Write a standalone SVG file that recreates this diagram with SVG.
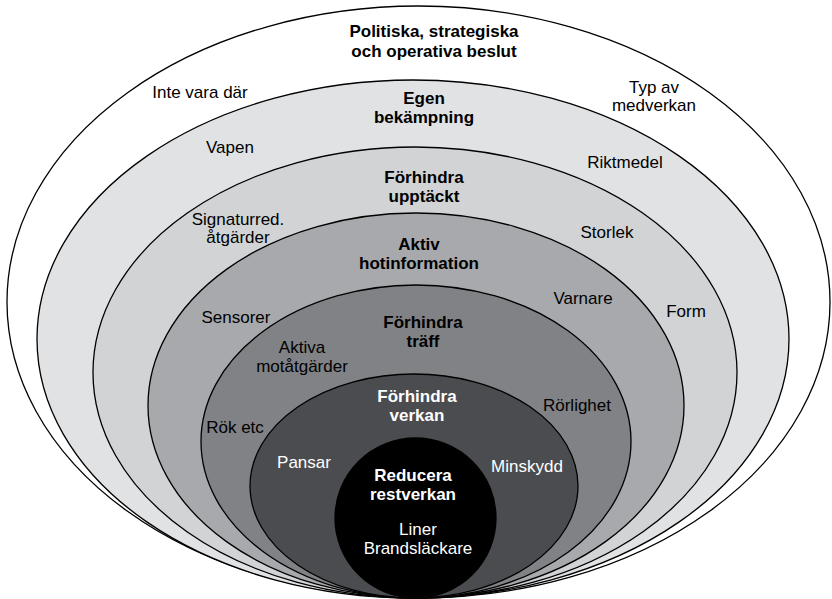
<svg xmlns="http://www.w3.org/2000/svg" width="832" height="599" viewBox="0 0 832 599">
<style>
.ring{stroke:#000;stroke-width:1.3}
text{font-family:"Liberation Sans",Arial,Helvetica,sans-serif;font-size:17px;text-anchor:middle;fill:#000}
.b{font-weight:bold}
.w{fill:#fff}
</style>
<rect width="832" height="599" fill="#fff"/>
<g id="ring-beslut">
<ellipse class="ring" cx="418.5" cy="302" rx="411.5" ry="296" fill="#ffffff"/>
<text class="b" x="434" y="37">Politiska, strategiska</text>
<text class="b" x="434" y="57">och operativa beslut</text>
<text x="200" y="98">Inte vara där</text>
<text x="654" y="93">Typ av</text>
<text x="654" y="111">medverkan</text>
</g>
<g id="ring-bekampning">
<ellipse class="ring" cx="413" cy="339" rx="376" ry="259" fill="#e1e2e4"/>
<text class="b" x="424" y="104">Egen</text>
<text class="b" x="424" y="123">bekämpning</text>
<text x="230" y="153">Vapen</text>
<text x="625" y="168">Riktmedel</text>
</g>
<g id="ring-upptackt">
<ellipse class="ring" cx="415" cy="372.5" rx="322" ry="225.5" fill="#d1d3d4"/>
<text class="b" x="424" y="183">Förhindra</text>
<text class="b" x="424" y="202">upptäckt</text>
<text x="238" y="224.5">Signaturred.</text>
<text x="238" y="243">åtgärder</text>
<text x="607" y="238">Storlek</text>
<text x="686" y="317">Form</text>
</g>
<g id="ring-hotinformation">
<ellipse class="ring" cx="416" cy="405.5" rx="268" ry="192.5" fill="#a7a9ac"/>
<text class="b" x="419" y="250">Aktiv</text>
<text class="b" x="419" y="269">hotinformation</text>
<text x="583" y="304">Varnare</text>
<text x="236" y="323">Sensorer</text>
</g>
<g id="ring-traff">
<ellipse class="ring" cx="416" cy="441.5" rx="215" ry="156.5" fill="#808285"/>
<text class="b" x="423" y="328">Förhindra</text>
<text class="b" x="423" y="347">träff</text>
<text x="302" y="353">Aktiva</text>
<text x="302" y="372">motåtgärder</text>
<text x="235" y="433">Rök etc</text>
<text x="577" y="411">Rörlighet</text>
</g>
<g id="ring-verkan">
<ellipse class="ring" cx="414" cy="486" rx="164" ry="112" fill="#4a4c4f"/>
<text class="b w" x="417" y="402">Förhindra</text>
<text class="b w" x="417" y="421">verkan</text>
<text class="w" x="304" y="468">Pansar</text>
<text class="w" x="527" y="472">Minskydd</text>
</g>
<g id="ring-restverkan">
<ellipse class="ring" cx="415.5" cy="518" rx="80.5" ry="80" fill="#000000"/>
<text class="b w" x="413" y="481">Reducera</text>
<text class="b w" x="413" y="500">restverkan</text>
<text class="w" x="418" y="535">Liner</text>
<text class="w" x="418" y="554">Brandsläckare</text>
</g>
<g id="connectors"/>
</svg>
